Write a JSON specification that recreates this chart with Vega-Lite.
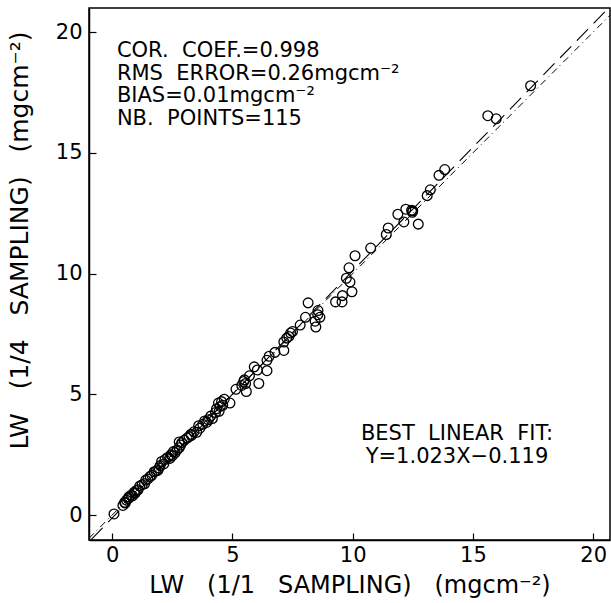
{
  "$schema": "https://vega.github.io/schema/vega-lite/v6.json",
  "width": 521,
  "height": 532,
  "autosize": "none",
  "padding": {"left": 89, "top": 8, "right": 1, "bottom": 63},
  "background": "white",
  "config": {
    "view": {"stroke": "black", "strokeWidth": 1.5},
    "font": "DejaVu Sans",
    "axis": {
      "grid": false,
      "domainColor": "black",
      "domainWidth": 1.5,
      "tickColor": "black",
      "tickWidth": 1.2,
      "tickSize": -7,
      "labelFont": "DejaVu Sans",
      "labelFontSize": 21,
      "labelColor": "black",
      "titleFont": "DejaVu Sans",
      "titleFontSize": 24,
      "titleFontWeight": "normal",
      "titleColor": "black"
    }
  },
  "datasets": {
    "one": [{}],
    "pts": [
      {"a": 17.4, "b": 17.78}, {"a": 15.62, "b": 16.54}, {"a": 15.97, "b": 16.41}, {"a": 13.83, "b": 14.31},
      {"a": 13.59, "b": 14.07}, {"a": 13.23, "b": 13.47}, {"a": 13.1, "b": 13.23}, {"a": 12.45, "b": 12.62},
      {"a": 12.48, "b": 12.54}, {"a": 12.21, "b": 12.67}, {"a": 11.88, "b": 12.46}, {"a": 12.13, "b": 12.14},
      {"a": 12.73, "b": 12.05}, {"a": 11.48, "b": 11.89}, {"a": 11.4, "b": 11.62}, {"a": 10.75, "b": 11.06},
      {"a": 10.1, "b": 10.74}, {"a": 9.85, "b": 10.24}, {"a": 9.74, "b": 9.81}, {"a": 9.89, "b": 9.65},
      {"a": 9.97, "b": 9.25}, {"a": 9.58, "b": 9.09}, {"a": 9.56, "b": 8.83}, {"a": 9.29, "b": 8.83},
      {"a": 8.15, "b": 8.79}, {"a": 8.56, "b": 8.47}, {"a": 8.64, "b": 8.19}, {"a": 8.44, "b": 8.03},
      {"a": 8.47, "b": 7.79}, {"a": 8.04, "b": 8.19}, {"a": 7.82, "b": 7.87}, {"a": 7.42, "b": 7.54},
      {"a": 7.26, "b": 7.33}, {"a": 7.14, "b": 7.17}, {"a": 7.14, "b": 6.82}, {"a": 6.77, "b": 6.74},
      {"a": 6.53, "b": 6.58}, {"a": 6.44, "b": 6.41}, {"a": 5.91, "b": 6.14}, {"a": 6.04, "b": 6.01},
      {"a": 6.44, "b": 5.98}, {"a": 6.1, "b": 5.45}, {"a": 5.71, "b": 5.77}, {"a": 5.47, "b": 5.53},
      {"a": 5.55, "b": 5.45}, {"a": 5.39, "b": 5.37}, {"a": 5.58, "b": 5.12}, {"a": 5.15, "b": 5.21},
      {"a": 7.35, "b": 7.4}, {"a": 7.5, "b": 7.6}, {"a": 12.5, "b": 12.6}, {"a": 8.55, "b": 8.3},
      {"a": 5.5, "b": 5.6},
      {"a": 4.9, "b": 4.64}, {"a": 4.66, "b": 4.8}, {"a": 4.55, "b": 4.7}, {"a": 4.42, "b": 4.64},
      {"a": 4.5, "b": 4.5}, {"a": 4.34, "b": 4.4}, {"a": 4.3, "b": 4.25}, {"a": 4.45, "b": 4.3},
      {"a": 4.17, "b": 4.0}, {"a": 4.0, "b": 3.95}, {"a": 3.93, "b": 3.84}, {"a": 3.85, "b": 3.9},
      {"a": 3.77, "b": 3.76}, {"a": 3.65, "b": 3.6}, {"a": 3.52, "b": 3.43}, {"a": 3.4, "b": 3.45},
      {"a": 3.28, "b": 3.35}, {"a": 3.2, "b": 3.25}, {"a": 3.12, "b": 3.19}, {"a": 3.0, "b": 3.1},
      {"a": 2.79, "b": 3.03}, {"a": 2.85, "b": 2.9}, {"a": 2.79, "b": 2.79}, {"a": 2.7, "b": 2.7},
      {"a": 2.62, "b": 2.58}, {"a": 2.55, "b": 2.63}, {"a": 2.45, "b": 2.5}, {"a": 2.4, "b": 2.35},
      {"a": 2.31, "b": 2.39}, {"a": 2.2, "b": 2.3}, {"a": 2.15, "b": 2.12}, {"a": 2.06, "b": 2.22},
      {"a": 2.0, "b": 2.05}, {"a": 1.95, "b": 1.95}, {"a": 1.82, "b": 1.82}, {"a": 1.75, "b": 1.8},
      {"a": 1.65, "b": 1.65}, {"a": 1.58, "b": 1.6}, {"a": 1.49, "b": 1.5}, {"a": 1.4, "b": 1.45},
      {"a": 1.35, "b": 1.3}, {"a": 1.25, "b": 1.26}, {"a": 1.15, "b": 1.2}, {"a": 1.08, "b": 1.05},
      {"a": 1.01, "b": 1.02}, {"a": 0.92, "b": 0.95}, {"a": 0.85, "b": 0.8}, {"a": 0.78, "b": 0.82},
      {"a": 0.7, "b": 0.75}, {"a": 0.68, "b": 0.69}, {"a": 0.6, "b": 0.62}, {"a": 0.55, "b": 0.5},
      {"a": 0.52, "b": 0.53}, {"a": 0.45, "b": 0.4}, {"a": 2.5, "b": 2.45}, {"a": 3.3, "b": 3.3},
      {"a": 3.6, "b": 3.7}, {"a": 4.1, "b": 4.1}, {"a": 4.6, "b": 4.55}, {"a": 1.9, "b": 1.85},
      {"a": 2.9, "b": 3.0}, {"a": 0.95, "b": 0.9}, {"a": 0.08, "b": 0.05}
    ]
  },
  "layer": [
    {
      "data": {"name": "one"},
      "mark": {"type": "rule", "color": "black", "strokeWidth": 1, "strokeDash": [7, 4, 1, 4], "clip": true},
      "encoding": {
        "x": {"datum": -0.96, "type": "quantitative", "scale": {"domain": [-0.96, 20.7], "nice": false, "zero": false}},
        "y": {"datum": -0.96, "type": "quantitative", "scale": {"domain": [-1.03, 21.0], "nice": false, "zero": false}},
        "x2": {"datum": 20.7},
        "y2": {"datum": 20.7}
      }
    },
    {
      "data": {"name": "one"},
      "mark": {"type": "rule", "color": "black", "strokeWidth": 1.1, "strokeDash": [16, 8], "clip": true},
      "encoding": {
        "x": {"datum": -0.86, "type": "quantitative"},
        "y": {"datum": -1.0, "type": "quantitative"},
        "x2": {"datum": 20.64},
        "y2": {"datum": 21.0}
      }
    },
    {
      "data": {"name": "pts"},
      "mark": {"type": "point", "shape": "circle", "filled": false, "color": "black", "strokeWidth": 1.3, "size": 95, "opacity": 1},
      "encoding": {
        "x": {
          "field": "a", "type": "quantitative",
          "axis": {"values": [0, 5, 10, 15, 20], "title": "LW\u00a0\u00a0\u00a0(1/1\u00a0\u00a0\u00a0SAMPLING)\u00a0\u00a0\u00a0(mgcm\u207b\u00b2)", "labelPadding": 11, "titlePadding": 8}
        },
        "y": {
          "field": "b", "type": "quantitative",
          "axis": {"values": [0, 5, 10, 15, 20], "title": "LW\u00a0\u00a0\u00a0(1/4\u00a0\u00a0\u00a0SAMPLING)\u00a0\u00a0\u00a0(mgcm\u207b\u00b2)", "labelPadding": 14, "titlePadding": 23, "titleFontSize": 25, "titleY": 232}
        }
      }
    },
    {
      "data": {"name": "one"},
      "mark": {"type": "text", "align": "left", "baseline": "alphabetic", "fontSize": 21, "lineHeight": 22.5, "color": "black", "font": "DejaVu Sans"},
      "encoding": {
        "x": {"datum": 0.2, "type": "quantitative"},
        "y": {"datum": 18.96, "type": "quantitative"},
        "text": {"value": ["COR.\u00a0\u00a0COEF.=0.998", "RMS\u00a0\u00a0ERROR=0.26mgcm\u207b\u00b2", "BIAS=0.01mgcm\u207b\u00b2", "NB.\u00a0\u00a0POINTS=115"]}
      }
    },
    {
      "data": {"name": "one"},
      "mark": {"type": "text", "align": "center", "baseline": "alphabetic", "fontSize": 21, "lineHeight": 22.5, "color": "black", "font": "DejaVu Sans"},
      "encoding": {
        "x": {"datum": 14.34, "type": "quantitative"},
        "y": {"datum": 3.1, "type": "quantitative"},
        "text": {"value": ["BEST\u00a0\u00a0LINEAR\u00a0\u00a0FIT:", "Y=1.023X\u22120.119"]}
      }
    }
  ]
}
